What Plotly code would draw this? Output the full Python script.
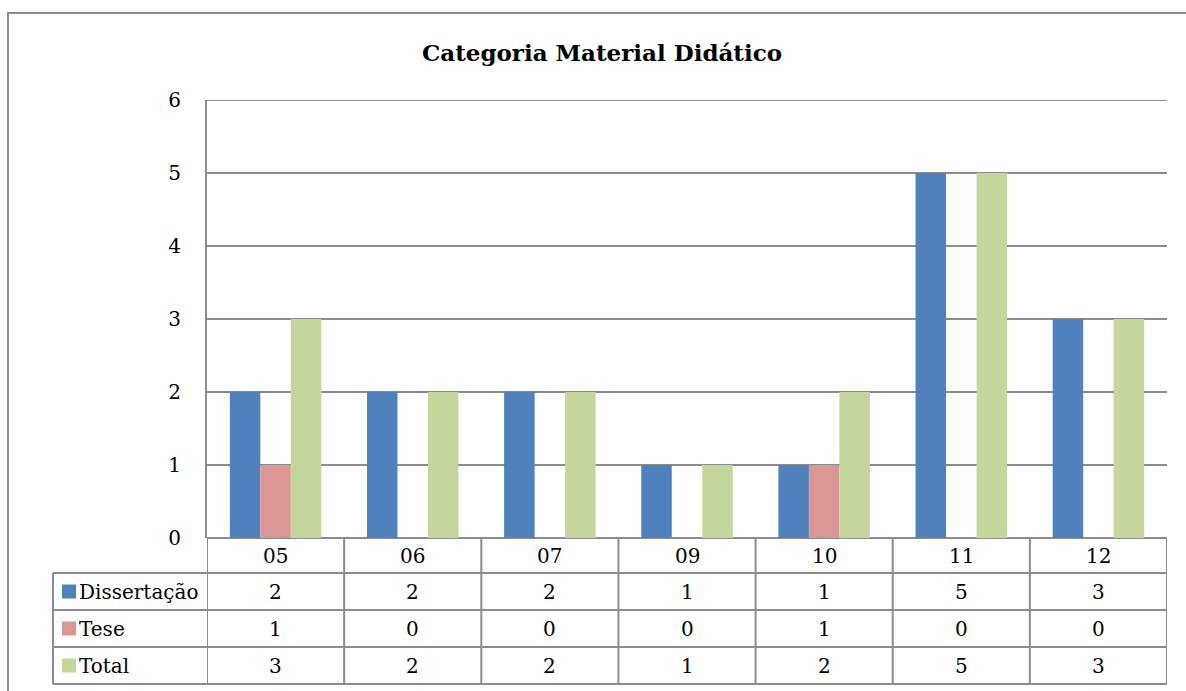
import plotly.graph_objects as go

categories = ["05", "06", "07", "09", "10", "11", "12"]
series_names = ["Dissertação", "Tese", "Total"]
dissertacao = [2, 2, 2, 1, 1, 5, 3]
tese = [1, 0, 0, 0, 1, 0, 0]
total = [3, 2, 2, 1, 2, 5, 3]
y_ticks = [0, 1, 2, 3, 4, 5, 6]
title_text = "Categoria Material Didático"

series_values = [dissertacao, tese, total]
colors = ["#4F81BD", "#D99694", "#C3D69B"]

W, H = 1186, 691
L, R, T, B = 207, 1167, 100, 538
PW, PH = R - L, B - T
FONT = "DejaVu Serif"
GRID = "#8C8C8C"

def px(x):
    return (x - L) / PW

def py(y):
    return (B - y) / PH

fig = go.Figure()
for name, vals, col in zip(series_names, series_values, colors):
    fig.add_trace(go.Bar(x=list(range(len(categories))), y=vals, name=name,
                         marker=dict(color=col, line=dict(width=0))))

shapes = []
annotations = []

# outer border
shapes.append(dict(type="rect", xref="paper", yref="paper",
                   x0=px(8), x1=px(1200), y0=py(13), y1=py(700),
                   line=dict(color="#8C8C8C", width=2)))

# top gridline (at max tick)
shapes.append(dict(type="line", xref="paper", yref="y",
                   x0=0, x1=1, y0=y_ticks[-1], y1=y_ticks[-1],
                   line=dict(color=GRID, width=2)))

# table geometry
row_tops = [538, 573, 610, 647, 684]
n = len(categories)
for yy in row_tops[1:]:
    shapes.append(dict(type="line", xref="paper", yref="paper",
                       x0=px(53), x1=1, y0=py(yy), y1=py(yy),
                       line=dict(color=GRID, width=2)))
for i in range(n + 1):
    shapes.append(dict(type="line", xref="x", yref="paper",
                       x0=i - 0.5, x1=i - 0.5, y0=0, y1=py(684),
                       line=dict(color=GRID, width=2)))
shapes.append(dict(type="line", xref="paper", yref="paper",
                   x0=px(53), x1=px(53), y0=py(573), y1=py(684),
                   line=dict(color=GRID, width=2)))

tfont = dict(family=FONT, size=20, color="black")
for i, c in enumerate(categories):
    annotations.append(dict(x=i, y=py((538 + 573) / 2), xref="x", yref="paper",
                            text=c, showarrow=False, font=tfont,
                            xanchor="center", yanchor="middle"))
for r, (name, vals, col) in enumerate(zip(series_names, series_values, colors)):
    top, bot = row_tops[r + 1], row_tops[r + 2]
    mid = (top + bot) / 2
    shapes.append(dict(type="rect", xref="paper", yref="paper",
                       x0=px(62), x1=px(76), y0=py(mid - 7), y1=py(mid + 7),
                       fillcolor=col, line=dict(width=0)))
    annotations.append(dict(x=px(77), y=py(mid), xref="paper", yref="paper",
                            text=name, showarrow=False, font=tfont,
                            xanchor="left", yanchor="middle"))
    for i, v in enumerate(vals):
        annotations.append(dict(x=i, y=py(mid), xref="x", yref="paper",
                                text=str(v), showarrow=False, font=tfont,
                                xanchor="center", yanchor="middle"))

fig.update_layout(
    width=W, height=H,
    margin=dict(l=L, r=W - R, t=T, b=H - B, pad=0),
    paper_bgcolor="white", plot_bgcolor="white",
    barmode="group", bargap=0.333, bargroupgap=0,
    showlegend=False,
    title=dict(text="<b>" + title_text + "</b>", x=602 / W, xref="container",
               y=1 - 53 / H, yref="container", xanchor="center", yanchor="middle",
               font=dict(family=FONT, size=23, color="black")),
    xaxis=dict(type="linear", range=[-0.5, n - 0.5], showticklabels=False,
               showgrid=False, zeroline=False, showline=False, ticks=""),
    yaxis=dict(range=[0, 6], tickvals=y_ticks, showgrid=True, gridcolor=GRID,
               gridwidth=2, zeroline=True, zerolinecolor=GRID, zerolinewidth=2,
               showline=True, linecolor=GRID, linewidth=2, ticks="",
               ticklabelstandoff=20,
               tickfont=dict(family=FONT, size=20, color="black")),
    shapes=shapes, annotations=annotations,
)

fig.write_html("out.html")
